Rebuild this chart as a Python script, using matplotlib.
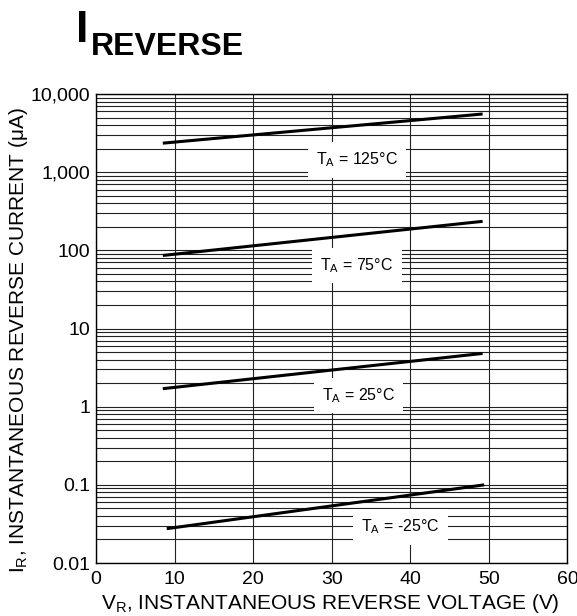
import numpy as np
import matplotlib
matplotlib.use('Agg')
import matplotlib.pyplot as plt
from matplotlib.ticker import FixedLocator, NullFormatter

plt.rcParams['font.family'] = ['Liberation Sans', 'DejaVu Sans']
plt.rcParams['mathtext.default'] = 'regular'

# Reverse current curves (V, uA)
temps = ['125', '75', '25', '-25']
v_start = [8.5, 8.5, 8.5, 9.0]
v_end = [49.2, 49.2, 49.2, 49.4]
i_start = [2350, 86, 1.70, 0.0275]
i_end = [5550, 235, 4.8, 0.10]
# label centres
lab_v = [33.2, 33.2, 33.4, 38.7]
lab_i = [1426, 64, 1.38, 0.029]

yticks = [0.01, 0.1, 1, 10, 100, 1000, 10000]
ytick_labels = ['0.01', '0.1', '1', '10', '100', '1,000', '10,000']
xticks = [0, 10, 20, 30, 40, 50, 60]

fig = plt.figure(figsize=(5.77, 6.16), dpi=100)
ax = fig.add_axes([0.1664, 0.086, 0.8171, 0.7614])
ax.set_yscale('log')
ax.set_xlim(0, 60)
ax.set_ylim(0.01, 10000)

# log grid: a line at every 2..9 step of each decade
minors = [m * 10.0**d for d in range(-2, 4) for m in range(2, 10)]
ax.yaxis.set_major_locator(FixedLocator(yticks))
ax.yaxis.set_minor_locator(FixedLocator(minors))
ax.yaxis.set_minor_formatter(NullFormatter())
ax.set_yticklabels(ytick_labels)
ax.set_xticks(xticks)
ax.tick_params(which='both', length=0, labelsize=14)
ax.tick_params(axis='y', pad=4)
ax.tick_params(axis='x', pad=6)
ax.grid(True, which='both', axis='y', color='#222222', lw=0.8)
ax.grid(True, which='major', axis='x', color='#222222', lw=0.8)
for s in ax.spines.values():
    s.set_linewidth(1.0)

for k in range(len(temps)):
    ax.plot([v_start[k], v_end[k]], [i_start[k], i_end[k]], color='black', lw=2.2,
            solid_capstyle='butt', zorder=3)
    ax.text(lab_v[k], lab_i[k], '$T_A$ = ' + temps[k] + '°C', ha='center', va='center',
            fontsize=11.5, zorder=4,
            bbox=dict(facecolor='white', edgecolor='none', pad=6))

ax.set_xlabel('$V_R$, INSTANTANEOUS REVERSE VOLTAGE (V)', fontsize=15)
ax.set_ylabel('$I_R$, INSTANTANEOUS REVERSE CURRENT (μA)', fontsize=15)
ax.xaxis.label.set_verticalalignment('center')
ax.xaxis.set_label_coords(0.496, -0.087)
ax.yaxis.label.set_verticalalignment('center')
ax.yaxis.set_label_coords(-0.165, 0.475)

# title: big "I" with subscript-style "REVERSE"
fig.text(0.1315, 0.932, 'I', fontsize=32, fontweight='bold', ha='left', va='baseline')
fig.text(0.1575, 0.9107, 'REVERSE', fontsize=23, fontweight='bold', ha='left', va='baseline')

fig.savefig('out.png', dpi=100)
